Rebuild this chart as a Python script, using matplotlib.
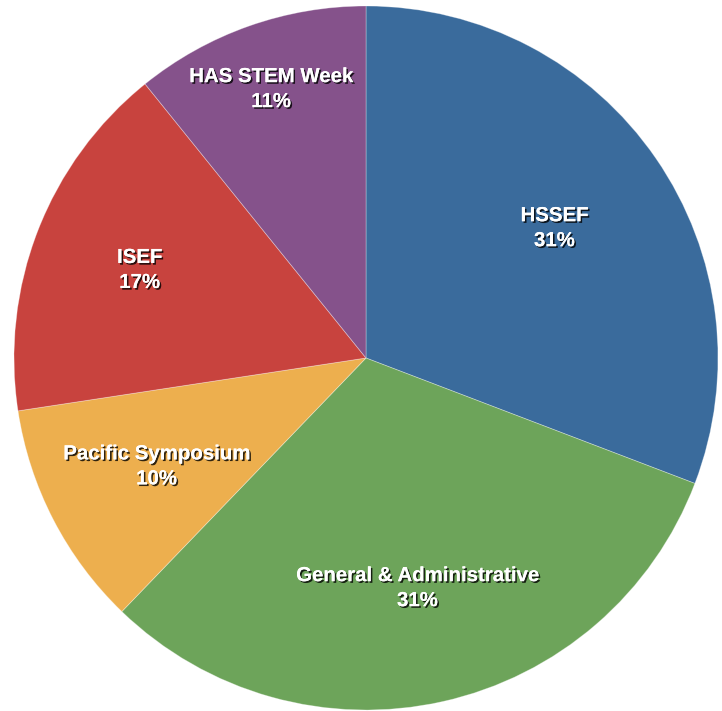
import numpy as np
import matplotlib
matplotlib.use("Agg")
import matplotlib.pyplot as plt
import matplotlib.patheffects as pe

# budget share by program, clockwise from 12 o'clock
labels = ["HSSEF", "General & Administrative", "Pacific Symposium", "ISEF", "HAS STEM Week"]
values = [30.8, 31.4, 10.4, 16.6, 10.8]
colors = ["#3A6B9C", "#6DA45A", "#EDAF4E", "#C8433E", "#85528B"]
label_r = [0.65, 0.67, 0.67, 0.69, 0.81]

fig = plt.figure(figsize=(7.22, 7.11), dpi=100)
ax = fig.add_axes([14 / 722, 1 / 711, 704 / 722, 704 / 711])

wedges, _ = ax.pie(values, colors=colors, startangle=90, counterclock=False,
                   radius=1.0, wedgeprops=dict(edgecolor=(1, 1, 1, 0.35), linewidth=0.6))

total = sum(values)
shadow = [pe.withSimplePatchShadow(offset=(1.2, -1.2), shadow_rgbFace="black", alpha=0.8),
          pe.Normal()]
for w, lab, v, r in zip(wedges, labels, values, label_r):
    ang = np.deg2rad((w.theta1 + w.theta2) / 2)
    x, y = r * np.cos(ang), r * np.sin(ang)
    t = ax.text(x, y, f"{lab}\n{v / total * 100:.0f}%", ha="center", va="center",
                color="white", fontsize=14.7, fontweight="bold",
                family=["Liberation Sans", "DejaVu Sans"], linespacing=1.4)
    t.set_path_effects(shadow)

ax.set_xlim(-1, 1)
ax.set_ylim(-1, 1)
ax.set_aspect("equal")
ax.axis("off")
fig.savefig("out.png", dpi=100)
